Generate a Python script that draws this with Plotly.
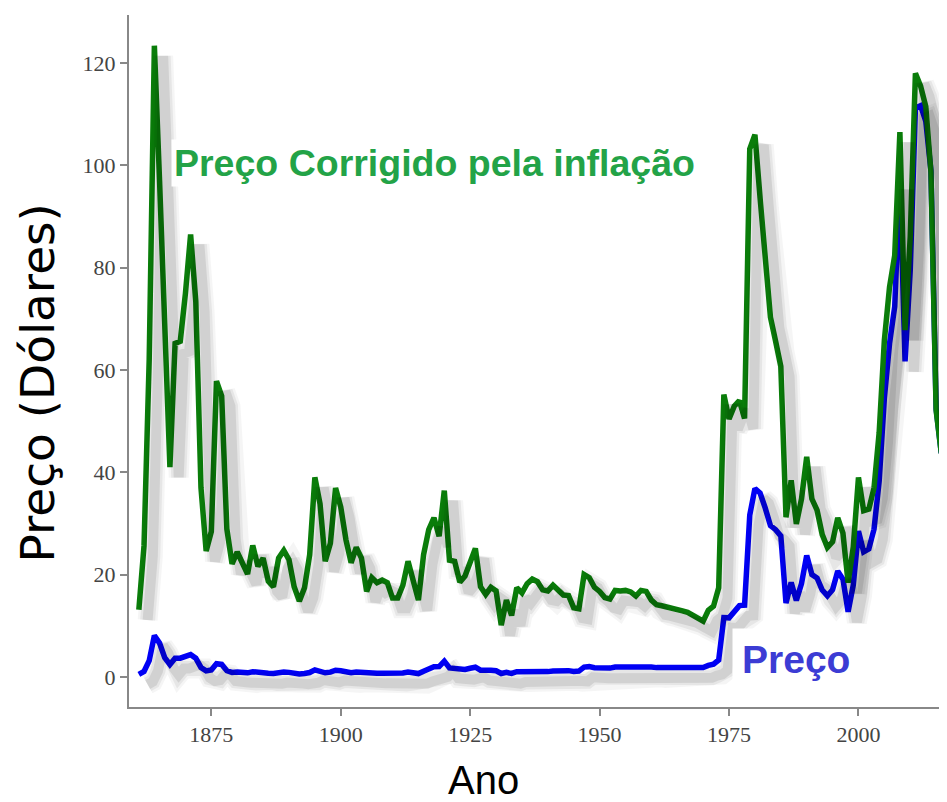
import plotly.graph_objects as go

# Oil price per barrel, annual (US dollars)
years = list(range(1861, 2017))

nominal = [
    0.49, 1.05, 3.15, 8.06, 6.59, 3.74, 2.41, 3.63, 3.64, 3.86,
    4.34, 3.64, 1.83, 1.17, 1.35, 2.56, 2.42, 1.19, 0.86, 0.95,
    0.86, 0.78, 1.00, 0.84, 0.88, 0.71, 0.67, 0.88, 0.94, 0.87,
    0.67, 0.56, 0.64, 0.84, 1.36, 1.18, 0.79, 0.91, 1.29, 1.19,
    0.96, 0.80, 0.94, 0.86, 0.62, 0.73, 0.72, 0.72, 0.70, 0.61,
    0.61, 0.74, 0.95, 0.81, 0.64, 1.10, 1.56, 1.98, 2.01, 3.07,
    1.73, 1.61, 1.34, 1.43, 1.68, 1.88, 1.30, 1.17, 1.27, 1.19,
    0.65, 0.87, 0.67, 1.00, 0.97, 1.09, 1.18, 1.13, 1.02, 1.02,
    1.14, 1.19, 1.20, 1.21, 1.05, 1.12, 1.90, 1.99, 1.78, 1.71,
    1.71, 1.71, 1.93, 1.93, 1.93, 1.93, 1.90, 2.08, 2.08, 1.90,
    1.80, 1.80, 1.80, 1.80, 1.80, 1.80, 1.80, 1.80, 1.80, 1.80,
    2.24, 2.48, 3.29, 11.58, 11.53, 12.80, 13.92, 14.02, 31.61, 36.83,
    35.93, 32.97, 29.55, 28.78, 27.56, 14.43, 18.44, 14.92, 18.23, 23.73,
    20.00, 19.32, 16.97, 15.82, 17.02, 20.67, 19.09, 12.72, 17.97, 28.50,
    24.44, 25.02, 28.83, 38.27, 54.52, 65.14, 72.39, 97.26, 61.67, 79.50,
    111.26, 111.67, 108.66, 98.95, 52.39, 43.73,
]

real = [
    13.1, 25.6, 62.0, 123.4, 97.0, 69.5, 41.0, 65.2, 65.6, 75.0,
    86.5, 73.4, 37.0, 24.6, 28.4, 57.8, 54.9, 28.9, 22.1, 24.4,
    22.2, 20.1, 25.7, 21.6, 23.2, 18.7, 17.6, 23.2, 24.7, 22.9,
    17.6, 14.8, 17.4, 23.9, 39.0, 33.8, 22.6, 26.1, 36.9, 33.2,
    26.8, 22.3, 25.3, 23.2, 16.7, 19.4, 18.4, 18.9, 18.4, 15.4,
    15.4, 17.9, 22.6, 19.1, 15.0, 23.9, 28.8, 31.1, 27.5, 36.4,
    22.8, 22.6, 18.5, 19.7, 22.6, 25.1, 17.6, 16.1, 17.5, 16.8,
    10.1, 15.0, 12.0, 17.4, 16.4, 18.2, 19.1, 18.6, 17.0, 16.8,
    17.9, 16.9, 16.0, 15.9, 13.5, 13.3, 20.0, 19.4, 17.5, 16.7,
    15.5, 15.2, 16.9, 16.8, 16.9, 16.6, 15.8, 16.9, 16.7, 15.0,
    14.1, 13.9, 13.7, 13.5, 13.3, 12.9, 12.6, 12.0, 11.4, 10.9,
    13.0, 13.8, 17.4, 55.2, 50.4, 52.9, 54.0, 50.5, 103.2, 106.0,
    93.6, 81.0, 70.3, 65.6, 60.7, 31.2, 38.4, 29.9, 34.8, 43.0,
    34.8, 32.6, 27.8, 25.3, 26.4, 31.1, 28.1, 18.4, 25.4, 39.0,
    32.5, 32.8, 36.9, 47.8, 65.8, 76.2, 82.4, 106.5, 67.8, 86.0,
    118.0, 115.5, 111.5, 98.7, 52.1, 43.7,
]

x_range = [1859.1, 2017.1]
y_range = [-5.9, 129.4]
# drop-shadow offset (in axis units): right and down
shadow_dx = 1.7
shadow_dy = 2.0

fig = go.Figure()

# soft shadows drawn on an overlaid, slightly shifted pair of axes
for series in (nominal, real):
    for w, a in ((20, 0.04), (15, 0.06), (10, 0.09)):
        fig.add_trace(go.Scatter(
            x=years, y=series, mode='lines',
            line=dict(color=f'rgba(0,0,0,{a})', width=w),
            xaxis='x2', yaxis='y2', hoverinfo='skip',
        ))

fig.add_trace(go.Scatter(
    x=years, y=nominal, mode='lines', name='Preço',
    line=dict(color='#0000f5', width=5.5),
))
fig.add_trace(go.Scatter(
    x=years, y=real, mode='lines', name='Preço Corrigido pela inflação',
    line=dict(color='#0a7d0a', width=5.5),
))

tick_font = dict(family='Liberation Serif, serif', size=22, color='#444444')

# the page body adds an 8px offset, so the figure is 8px smaller
fig.update_layout(
    width=939,
    height=794,
    margin=dict(t=7, b=95, l=121, r=0, autoexpand=False),
    paper_bgcolor='#ffffff',
    plot_bgcolor='#ffffff',
    showlegend=False,
    xaxis=dict(
        range=x_range,
        tickvals=[1875, 1900, 1925, 1950, 1975, 2000],
        ticks='outside', ticklen=7, tickcolor='#888888', tickwidth=2,
        showline=True, linecolor='#888888', linewidth=2,
        showgrid=False, zeroline=False, automargin=False,
        tickfont=tick_font,
    ),
    yaxis=dict(
        range=y_range,
        tickvals=[0, 20, 40, 60, 80, 100, 120],
        ticks='outside', ticklen=7, tickcolor='#888888', tickwidth=2,
        showline=True, linecolor='#888888', linewidth=2,
        showgrid=False, zeroline=False, automargin=False,
        tickfont=tick_font,
    ),
    xaxis2=dict(
        range=[x_range[0] - shadow_dx, x_range[1] - shadow_dx],
        overlaying='x', visible=False,
    ),
    yaxis2=dict(
        range=[y_range[0] + shadow_dy, y_range[1] + shadow_dy],
        overlaying='y', visible=False,
    ),
)

# Axis titles
fig.add_annotation(
    xref='paper', yref='paper', x=0.433, y=-0.106,
    text='Ano', showarrow=False, xanchor='center', yanchor='middle',
    font=dict(family='Liberation Sans, Arial, sans-serif', size=40, color='#000000'),
)
fig.add_annotation(
    xref='paper', yref='paper', x=-0.112, y=0.468, textangle=-90,
    text='Preço (Dólares)', showarrow=False, xanchor='center', yanchor='middle',
    font=dict(family='DejaVu Sans, sans-serif', size=47, color='#000000'),
)

# Series labels
fig.add_annotation(
    x=1867.2, y=100.5, xanchor='left', yanchor='middle',
    text='<b>Preço Corrigido pela inflação</b>', showarrow=False,
    bgcolor='#ffffff', borderpad=2,
    font=dict(family='Liberation Sans, Arial, sans-serif', size=37.5, color='#23a347'),
)
fig.add_annotation(
    x=1975.6, y=3.3, xanchor='left', yanchor='middle',
    text='<b>Preço</b>', showarrow=False,
    bgcolor='#ffffff', borderpad=9,
    font=dict(family='Liberation Sans, Arial, sans-serif', size=39, color='#3c3cd4'),
)

fig.write_html('out.html')
